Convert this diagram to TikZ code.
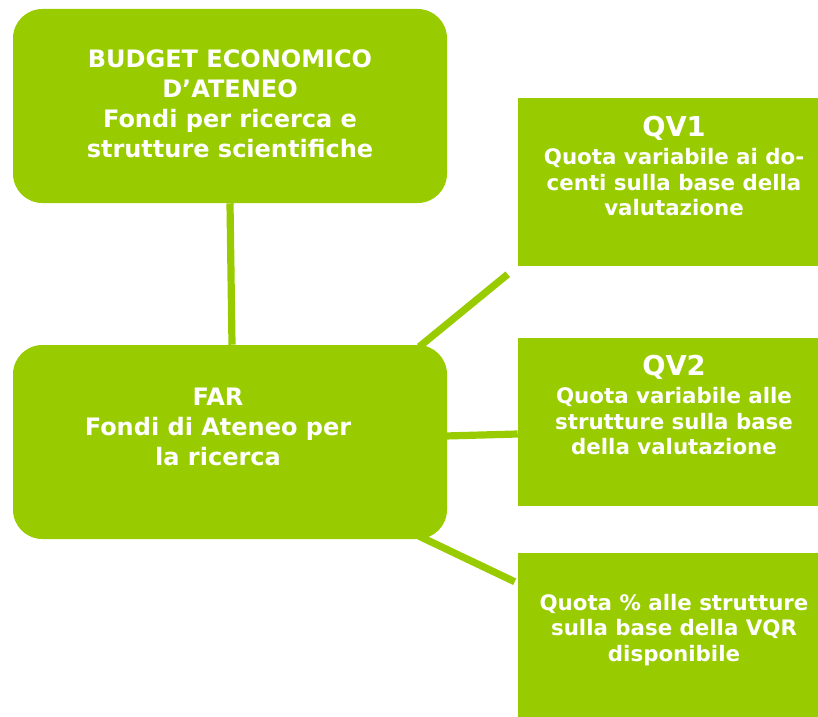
\documentclass[tikz,border=0pt]{standalone}
\usepackage{fontspec}
\setmainfont{DejaVu Sans}
\definecolor{fargreen}{HTML}{99CC00}
\tikzset{
  bigbox/.style={fill=fargreen, rounded corners=22pt, minimum width=325.5pt, minimum height=145.5pt, inner sep=0pt},
  sidebox/.style={fill=fargreen, minimum width=225pt, minimum height=126pt, inner sep=0pt},
  boxtext/.style={text=white, align=center, inner sep=0pt, font=\bfseries\fontsize{18}{22.5}\selectfont},
  sidetext/.style={text=white, align=center, inner sep=0pt, font=\bfseries\fontsize{16}{19.3}\selectfont},
  link/.style={draw=fargreen, line width=5.4pt}
}
\newcommand{\sidetitle}[1]{{\fontsize{20.5}{24}\selectfont #1}}

\begin{document}
\begin{tikzpicture}[x=0.75pt,y=-0.75pt]
  \useasboundingbox (0,0) rectangle (818,717);
  \node[bigbox] (budget) at (230,106) {};
  \node[bigbox] (far) at (230,442) {};
  \node[sidebox] (qv1) at (668,182) {};
  \node[sidebox] (qv2) at (668,422) {};
  \node[sidebox, minimum height=123pt] (vqr) at (668,635) {};
  \coordinate (qv1end) at ([shift={(-10,8)}]qv1.south west);
  \coordinate (vqrend) at ([shift={(-3,29)}]vqr.north west);
  \draw[link] (budget.south) -- ([shift={(2,0)}]far.north);
  \draw[link] ([shift={(-28,2)}]far.north east) -- (qv1end);
  \draw[link] ([shift={(-2,-6)}]far.east) -- ([shift={(0,12)}]qv2.west);
  \draw[link] ([shift={(-28,-3)}]far.south east) -- (vqrend);
  \node[boxtext] (budgettxt) at ([shift={(0,-2)}]budget.center)
    {BUDGET ECONOMICO\\D’ATENEO\\Fondi per ricerca e\\strutture scientifiche};
  \node[boxtext] (fartxt) at ([shift={(-12,-15)}]far.center)
    {FAR\\Fondi di Ateneo per\\la ricerca};
  \node[sidetext] (qv1txt) at ([shift={(6,-16)}]qv1.center)
    {\sidetitle{QV1}\\[2pt]Quota variabile ai do-\\centi sulla base della\\valutazione};
  \node[sidetext] (qv2txt) at ([shift={(6,-17)}]qv2.center)
    {\sidetitle{QV2}\\[2pt]Quota variabile alle\\strutture sulla base\\della valutazione};
  \node[sidetext] (vqrtxt) at ([shift={(6,-5)}]vqr.center)
    {Quota \% alle strutture\\sulla base della VQR\\disponibile};
\end{tikzpicture}
\end{document}
